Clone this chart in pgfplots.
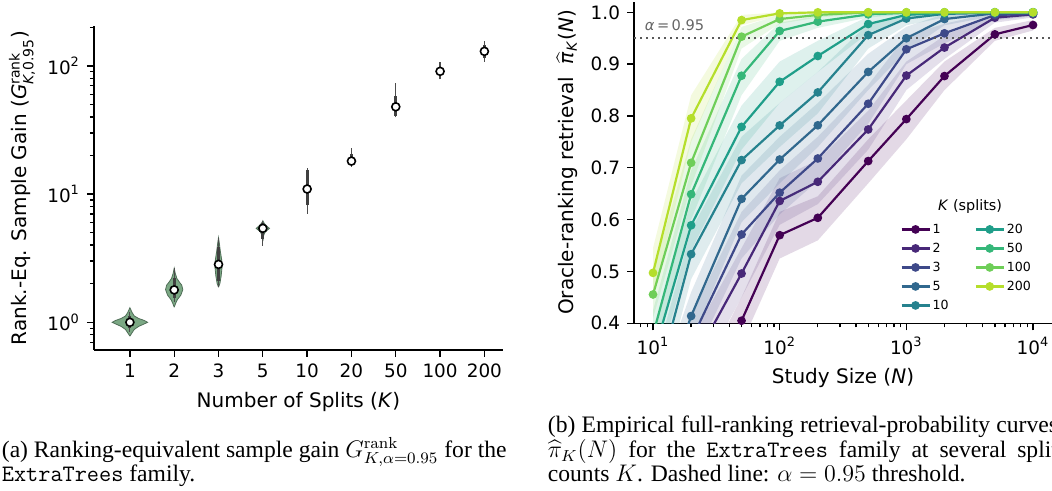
\documentclass[border=0pt]{standalone}
\usepackage{amsmath}
\usepackage[no-math]{fontspec}
\setmainfont{Liberation Serif}
\newfontfamily\dejavu{DejaVu Sans}
\usepackage{pgfplots}
\pgfplotsset{compat=1.18}

% viridis, 10 steps
\definecolor{c1}{HTML}{440154}
\definecolor{c2}{HTML}{482878}
\definecolor{c3}{HTML}{3E4989}
\definecolor{c4}{HTML}{31688E}
\definecolor{c5}{HTML}{26828E}
\definecolor{c6}{HTML}{1F9E89}
\definecolor{c7}{HTML}{35B779}
\definecolor{c8}{HTML}{6ECE58}
\definecolor{c9}{HTML}{B5DE2B}
\definecolor{violin}{RGB}{123,168,132}
\definecolor{violinedge}{RGB}{80,110,88}

\pgfplotsset{
  mpl/.style={
    scale only axis,
    axis lines*=left,
    axis line style={-, line width=0.65pt},
    tick align=outside,
    major tick length=3.5pt,
    minor tick length=2pt,
    every tick/.style={black, line width=0.65pt},
    tick label style={font=\dejavu\fontsize{9.2}{10}\selectfont},
    label style={font=\dejavu\fontsize{10}{12}\selectfont},
  },
  band/.style={fill=#1, fill opacity=0.15, draw=none, forget plot},
  curve/.style={#1, line width=1.1pt, mark=*, mark size=1.6pt},
}

\begin{document}
\begin{tikzpicture}
\useasboundingbox (0pt,0pt) rectangle (526pt,245.5pt);

% (a) sample gain
\begin{axis}[mpl,
    at={(47pt,70.5pt)}, anchor=south west,
    width=204.5pt, height=162pt,
    xmin=-0.81, xmax=8.42,
    ymode=log, ymin=0.608, ymax=205,
    xtick={0,...,8},
    xticklabels={1,2,3,5,10,20,50,100,200},
    ytick={1,10,100},
    yticklabels={10\textsuperscript{0},10\textsuperscript{1},10\textsuperscript{2}},
    minor ytick={0.7,0.8,0.9,2,3,4,5,6,7,8,9,20,30,40,50,60,70,80,90,200},
    xlabel={Number of Splits (\textit{K})},
    ylabel={Rank.-Eq. Sample Gain (\textit{G}$^{\text{rank}}_{\text{\textit{K},0.95}}$)},
    xlabel style={at={(axis description cs:0.5,-0.16)}, anchor=center},
    ylabel style={at={(axis description cs:-0.176,0.5)}, anchor=center},
    unbounded coords=jump,
  ]
  \addplot[fill=violin, draw=violinedge, line width=0.4pt] coordinates {
    (0,0.78) (0.05,0.83) (0.10,0.88) (0.20,0.93) (0.32,0.97) (0.40,1.0) (0.32,1.035) (0.20,1.07) (0.10,1.12) (0.05,1.19) (0,1.30)
    (-0.05,1.19) (-0.10,1.12) (-0.20,1.07) (-0.32,1.035) (-0.40,1.0) (-0.32,0.97) (-0.20,0.93) (-0.10,0.88) (-0.05,0.83) (0,0.78)};
  \addplot[fill=violin, draw=violinedge, line width=0.4pt] coordinates {
    (1,1.31) (1.03,1.4) (1.07,1.5) (1.15,1.63) (1.195,1.8) (1.17,1.95) (1.12,2.05) (1.06,2.2) (1.025,2.4) (1,2.64)
    (0.975,2.4) (0.94,2.2) (0.88,2.05) (0.83,1.95) (0.805,1.8) (0.85,1.63) (0.93,1.5) (0.97,1.4) (1,1.31)};
  \addplot[fill=violin, draw=violinedge, line width=0.4pt] coordinates {
    (2,1.88) (2.03,2.0) (2.06,2.3) (2.08,2.7) (2.07,3.1) (2.04,3.6) (2.02,4.1) (2,4.57)
    (1.98,4.1) (1.96,3.6) (1.93,3.1) (1.92,2.7) (1.94,2.3) (1.97,2.0) (2,1.88)};
  \addplot[fill=violin, draw=violinedge, line width=0.4pt] coordinates {
    (3,4.3) (3.02,4.8) (3.06,5.1) (3.15,5.4) (3.06,5.75) (3.02,6.0) (3,6.2)
    (2.98,6.0) (2.94,5.75) (2.85,5.4) (2.94,5.1) (2.98,4.8) (3,4.3)};
  % whiskers
  \addplot[black!70, line width=0.6pt] coordinates {
    (0,0.845) (0,1.21) (0,nan) (1,1.45) (1,2.64) (1,nan) (2,1.88) (2,4.57) (2,nan)
    (3,3.94) (3,6.17) (3,nan) (4,7.0) (4,15.9) (4,nan) (5,16.4) (5,22.8) (5,nan)
    (6,39.7) (6,74) (6,nan) (7,78.6) (7,106.7) (7,nan) (8,108) (8,157)};
  % inter-quartile
  \addplot[black!75, line width=1.4pt] coordinates {
    (0,0.9) (0,1.12) (0,nan) (1,1.55) (1,2.2) (1,nan) (2,2.1) (2,3.9) (2,nan)
    (3,4.5) (3,5.9) (3,nan) (4,8.2) (4,15.5) (4,nan) (5,17) (5,20.5) (5,nan)
    (6,41) (6,58) (6,nan) (7,83) (7,97) (7,nan) (8,115) (8,145)};
  % medians
  \addplot[only marks, mark=*, mark size=2pt, mark options={fill=white, draw=black, line width=0.8pt}] coordinates {
    (0,1.0) (1,1.79) (2,2.83) (3,5.41) (4,10.96) (5,18.1) (6,48) (7,90.8) (8,130)};
\end{axis}

% (b) retrieval curves
\begin{axis}[mpl,
    at={(317pt,83.85pt)}, anchor=south west,
    width=209pt, height=160.8pt,
    xmode=log, xmin=7.08, xmax=14125,
    ymin=0.4, ymax=1.0205,
    xtick={10,100,1000,10000},
    xticklabels={10\textsuperscript{1},10\textsuperscript{2},10\textsuperscript{3},10\textsuperscript{4}},
    minor xtick={8,9,20,30,40,50,60,70,80,90,200,300,400,500,600,700,800,900,2000,3000,4000,5000,6000,7000,8000,9000},
    ytick={0.4,0.5,0.6,0.7,0.8,0.9,1.0},
    yticklabels={0.4,0.5,0.6,0.7,0.8,0.9,1.0},
    xlabel={Study Size (\textit{N})},
    ylabel={Oracle-ranking retrieval\ \ $\widehat{\text{\textit{π}}}_{\text{\textit{K}}}$(\textit{N})},
    xlabel style={at={(axis description cs:0.5,-0.171)}, anchor=center},
    ylabel style={at={(axis description cs:-0.16,0.5)}, anchor=center},
    legend columns=2,
    legend cell align=left,
    legend style={at={(axis description cs:0.6364,0.318)}, anchor=north west, draw=none, fill=none,
      inner sep=0pt, row sep=1.5pt,
      font=\dejavu\fontsize{6.3}{7}\selectfont,
      nodes={inner sep=1pt, text height=5pt, text depth=1pt},
      /tikz/every even column/.append style={column sep=12pt}},
    legend image code/.code={\draw[mark repeat=2, mark phase=2, #1] plot coordinates {(0pt,0pt) (7pt,0pt) (14pt,0pt)};},
  ]
  % K = 1
  \addplot[band=c1] coordinates {(10,0.10) (20,0.26) (50,0.45) (100,0.615) (200,0.645) (500,0.755) (1000,0.83) (2000,0.905) (5000,0.97) (10000,0.985)
    (10000,0.965) (5000,0.945) (2000,0.85) (1000,0.755) (500,0.67) (200,0.56) (100,0.525) (50,0.36) (20,0.14) (10,0.00)};
  \addplot[curve=c1, forget plot] coordinates {(10,0.05) (20,0.20) (50,0.405) (100,0.570) (200,0.6035) (500,0.713) (1000,0.794) (2000,0.877) (5000,0.9575) (10000,0.9755)};
  % K = 2
  \addplot[band=c2] coordinates {(10,0.17) (20,0.37) (50,0.545) (100,0.68) (200,0.715) (500,0.81) (1000,0.905) (2000,0.955) (5000,0.997) (10000,1.0)
    (10000,0.99) (5000,0.98) (2000,0.91) (1000,0.85) (500,0.735) (200,0.63) (100,0.59) (50,0.45) (20,0.27) (10,0.07)};
  \addplot[curve=c2, forget plot] coordinates {(10,0.12) (20,0.318) (50,0.496) (100,0.636) (200,0.673) (500,0.774) (1000,0.878) (2000,0.932) (5000,0.9896) (10000,0.996)};
  % K = 3
  \addplot[band=c3] coordinates {(10,0.20) (20,0.415) (50,0.615) (100,0.695) (200,0.76) (500,0.86) (1000,0.955) (2000,0.978) (5000,1.0) (10000,1.0)
    (10000,0.992) (5000,0.985) (2000,0.94) (1000,0.90) (500,0.785) (200,0.675) (100,0.61) (50,0.525) (20,0.32) (10,0.10)};
  \addplot[curve=c3, forget plot] coordinates {(10,0.15) (20,0.367) (50,0.5714) (100,0.652) (200,0.718) (500,0.8236) (1000,0.9286) (2000,0.9595) (5000,0.9948) (10000,0.997)};
  % K = 5
  \addplot[band=c4] coordinates {(10,0.25) (20,0.46) (50,0.685) (100,0.76) (200,0.825) (500,0.92) (1000,0.972) (2000,0.997) (5000,1.0) (10000,1.0)
    (10000,0.996) (5000,0.993) (2000,0.975) (1000,0.925) (500,0.85) (200,0.74) (100,0.67) (50,0.595) (20,0.365) (10,0.15)};
  \addplot[curve=c4, forget plot] coordinates {(10,0.20) (20,0.414) (50,0.640) (100,0.716) (200,0.782) (500,0.885) (1000,0.950) (2000,0.987) (5000,0.998) (10000,0.999)};
  % K = 10
  \addplot[band=c5] coordinates {(10,0.31) (20,0.58) (50,0.76) (100,0.825) (200,0.885) (500,0.978) (1000,0.997) (2000,1.0) (5000,1.0) (10000,1.0)
    (10000,0.998) (5000,0.996) (2000,0.99) (1000,0.975) (500,0.93) (200,0.805) (100,0.74) (50,0.67) (20,0.485) (10,0.21)};
  \addplot[curve=c5, forget plot] coordinates {(10,0.258) (20,0.5334) (50,0.7149) (100,0.7818) (200,0.8455) (500,0.956) (1000,0.988) (2000,0.997) (5000,0.999) (10000,1.0)};
  % K = 20
  \addplot[band=c6] coordinates {(10,0.385) (20,0.635) (50,0.82) (100,0.905) (200,0.945) (500,0.992) (1000,1.0) (2000,1.0) (5000,1.0) (10000,1.0)
    (10000,0.999) (5000,0.998) (2000,0.996) (1000,0.988) (500,0.96) (200,0.885) (100,0.825) (50,0.735) (20,0.54) (10,0.285)};
  \addplot[curve=c6, forget plot] coordinates {(10,0.336) (20,0.589) (50,0.779) (100,0.866) (200,0.9157) (500,0.9774) (1000,0.995) (2000,0.999) (5000,1.0) (10000,1.0)};
  % K = 50
  \addplot[band=c7] coordinates {(10,0.425) (20,0.695) (50,0.91) (100,0.98) (200,0.993) (500,1.0) (1000,1.0) (2000,1.0) (5000,1.0) (10000,1.0)
    (10000,0.999) (5000,0.999) (2000,0.998) (1000,0.996) (500,0.99) (200,0.97) (100,0.945) (50,0.84) (20,0.60) (10,0.33)};
  \addplot[curve=c7, forget plot] coordinates {(10,0.378) (20,0.649) (50,0.8776) (100,0.964) (200,0.982) (500,0.996) (1000,0.999) (2000,1.0) (5000,1.0) (10000,1.0)};
  % K = 100
  \addplot[band=c8] coordinates {(10,0.50) (20,0.755) (50,0.972) (100,0.995) (200,1.0) (500,1.0) (1000,1.0) (2000,1.0) (5000,1.0) (10000,1.0)
    (10000,0.999) (5000,0.999) (2000,0.999) (1000,0.999) (500,0.998) (200,0.99) (100,0.978) (50,0.93) (20,0.665) (10,0.41)};
  \addplot[curve=c8, forget plot] coordinates {(10,0.4556) (20,0.7097) (50,0.953) (100,0.987) (200,0.995) (500,1.0) (1000,1.0) (2000,1.0) (5000,1.0) (10000,1.0)};
  % K = 200
  \addplot[band=c9] coordinates {(10,0.545) (20,0.84) (50,0.995) (100,1.0) (200,1.0) (500,1.0) (1000,1.0) (2000,1.0) (5000,1.0) (10000,1.0)
    (10000,0.999) (5000,0.999) (2000,0.999) (1000,0.999) (500,0.999) (200,0.998) (100,0.994) (50,0.975) (20,0.75) (10,0.45)};
  \addplot[curve=c9, forget plot] coordinates {(10,0.4973) (20,0.7954) (50,0.985) (100,0.998) (200,1.0) (500,1.0) (1000,1.0) (2000,1.0) (5000,1.0) (10000,1.0)};
  % threshold
  \addplot[black!65, line width=0.9pt, dash pattern=on 1pt off 2pt, forget plot] coordinates {(7.08,0.95) (14125,0.95)};
  \node[anchor=west, text=black!60, font=\dejavu\fontsize{7.3}{8}\selectfont] at (axis cs:7.6,0.9755) {\textit{α}\,=\,0.95};
  \node[anchor=center, font=\dejavu\fontsize{7.2}{8}\selectfont] at (axis description cs:0.804,0.3616) {\textit{K} (splits)};
  % legend filled column by column
  \addlegendimage{curve=c1}\addlegendentry{1}
  \addlegendimage{curve=c6}\addlegendentry{20}
  \addlegendimage{curve=c2}\addlegendentry{2}
  \addlegendimage{curve=c7}\addlegendentry{50}
  \addlegendimage{curve=c3}\addlegendentry{3}
  \addlegendimage{curve=c8}\addlegendentry{100}
  \addlegendimage{curve=c4}\addlegendentry{5}
  \addlegendimage{curve=c9}\addlegendentry{200}
  \addlegendimage{curve=c5}\addlegendentry{10}
\end{axis}

% captions
\begin{scope}[every node/.style={anchor=base west, inner sep=0pt, font=\fontsize{11.8}{12}\selectfont}]
  \node at (0.75pt,16.75pt) {(a) Ranking-equivalent sample gain $G^{\mathrm{rank}}_{K,\alpha=0.95}$ for the};
  \node at (0.75pt,4.75pt) {\texttt{ExtraTrees} family.};
  \node at (273.75pt,29pt) {\makebox[255pt][s]{(b) Empirical full-ranking retrieval-probability curves}};
  \node at (273.75pt,16.75pt) {\makebox[255pt][s]{$\widehat{\pi}_K(N)$ for the \texttt{ExtraTrees} family at several split}};
  \node at (273.75pt,4.75pt) {counts $K$. Dashed line: $\alpha=0.95$ threshold.};
\end{scope}
\end{tikzpicture}
\end{document}
